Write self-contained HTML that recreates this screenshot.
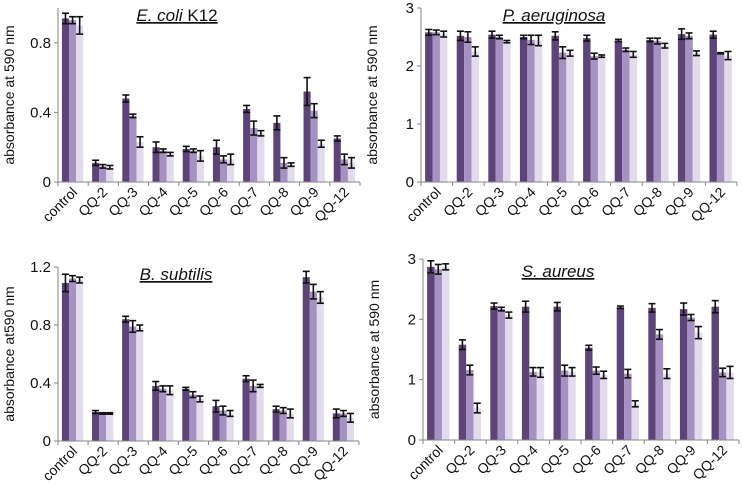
<!DOCTYPE html>
<html><head><meta charset="utf-8"><style>
body{margin:0;background:#fff;}
svg{display:block;font-family:"Liberation Sans",sans-serif;}
</style></head><body>
<svg id="c" width="743" height="494" viewBox="0 0 743 494"></svg>
<script>
const categories=["control","QQ-2","QQ-3","QQ-4","QQ-5","QQ-6","QQ-7","QQ-8","QQ-9","QQ-12"];
const ecoliVals=[[0.94,0.93,0.90],[0.11,0.09,0.085],[0.48,0.38,0.23],[0.20,0.18,0.16],[0.19,0.18,0.15],[0.20,0.13,0.13],[0.42,0.31,0.28],[0.34,0.11,0.10],[0.52,0.41,0.22],[0.25,0.13,0.11]];
const ecoliErr=[[0.03,0.02,0.05],[0.015,0.01,0.01],[0.02,0.01,0.03],[0.03,0.01,0.01],[0.015,0.01,0.03],[0.04,0.02,0.03],[0.02,0.04,0.015],[0.04,0.03,0.01],[0.08,0.04,0.02],[0.015,0.03,0.03]];
const paerVals=[[2.58,2.58,2.55],[2.52,2.5,2.25],[2.54,2.5,2.42],[2.5,2.45,2.44],[2.52,2.23,2.22],[2.48,2.17,2.17],[2.44,2.28,2.2],[2.45,2.43,2.35],[2.55,2.52,2.22],[2.54,2.22,2.18]];
const paerErr=[[0.05,0.04,0.05],[0.08,0.09,0.08],[0.06,0.03,0.02],[0.03,0.08,0.09],[0.07,0.1,0.05],[0.05,0.05,0.02],[0.02,0.03,0.05],[0.03,0.05,0.04],[0.09,0.05,0.04],[0.06,0.01,0.07]];
const bsubVals=[[1.09,1.12,1.11],[0.2,0.19,0.19],[0.84,0.79,0.78],[0.38,0.36,0.35],[0.36,0.32,0.29],[0.24,0.21,0.19],[0.43,0.38,0.38],[0.22,0.21,0.19],[1.13,1.03,0.99],[0.19,0.19,0.16]];
const bsubErr=[[0.06,0.02,0.02],[0.01,0.005,0.005],[0.02,0.04,0.02],[0.03,0.02,0.03],[0.01,0.02,0.02],[0.04,0.03,0.02],[0.02,0.04,0.01],[0.02,0.02,0.03],[0.04,0.05,0.04],[0.03,0.02,0.03]];
const saurVals=[[2.87,2.83,2.87],[1.58,1.16,0.53],[2.22,2.17,2.07],[2.21,1.13,1.12],[2.21,1.15,1.13],[1.53,1.15,1.08],[2.2,1.1,0.6],[2.19,1.75,1.1],[2.17,2.03,1.78],[2.21,1.12,1.12]];
const saurErr=[[0.1,0.08,0.05],[0.08,0.08,0.08],[0.05,0.03,0.05],[0.09,0.07,0.08],[0.07,0.09,0.07],[0.04,0.06,0.06],[0.02,0.07,0.05],[0.07,0.08,0.08],[0.1,0.05,0.1],[0.1,0.07,0.1]];
const ecoliTicks=["0","0.4","0.8"], ecoliTickVals=[0,0.4,0.8];
const paerTicks=["0","1","2","3"], paerTickVals=[0,1,2,3];
const bsubTicks=["0","0.4","0.8","1.2"], bsubTickVals=[0,0.4,0.8,1.2];
const saurTicks=["0","1","2","3"], saurTickVals=[0,1,2,3];

const colors=["#5c4479","#a791c2","#e2dbec"];
const NS="http://www.w3.org/2000/svg";
const svg=document.getElementById('c');
function mk(tag,attrs,parent){const e=document.createElementNS(NS,tag);for(const k in attrs)e.setAttribute(k,attrs[k]);(parent||svg).appendChild(e);return e;}

function panel(id,title,x0,x1,y0,yTop,ymax,vals,errs,ticks,tickVals,ytitle,titleX,titleY){
  const g=mk('g',{});
  
  
  const ys=v=>y0-(v/ymax)*(y0-yTop);
  const cw=(x1-x0)/categories.length;
  const xs=i=>x0+i*cw;
  vals.forEach((grp,i)=>{
    grp.forEach((v,j)=>{
      const bw=cw*0.235, bx=xs(i)+cw*0.13+j*bw;
      const r=mk('rect',{x:bx,y:ys(v),width:bw,height:y0-ys(v),fill:colors[j]},g);
      
      
    });
    grp.forEach((v,j)=>{
      const bw=cw*0.235, cx=xs(i)+cw*0.13+j*bw+bw/2, e=errs[i][j];
      const t=ys(v+e), b=ys(v-e);
      const eg=mk('g',{stroke:'#111','stroke-width':1.6},g);
      
      
      mk('line',{x1:cx,x2:cx,y1:t,y2:b},eg);
      mk('line',{x1:cx-3.5,x2:cx+3.5,y1:t,y2:t},eg);
      mk('line',{x1:cx-3.5,x2:cx+3.5,y1:b,y2:b},eg);
    });
  });
  const ax=mk('g',{stroke:'#868686','stroke-width':1},g);
  
  
  mk('line',{x1:x0,x2:x0,y1:yTop,y2:y0},ax);
  mk('line',{x1:x0,x2:x1,y1:y0,y2:y0},ax);
  tickVals.forEach((v,k)=>{
    mk('line',{x1:x0-4,x2:x0,y1:ys(v),y2:ys(v)},ax);
    const t=mk('text',{x:x0-7,y:ys(v)+5,'text-anchor':'end','font-size':15,fill:'#111'},g);
    t.textContent=ticks[k];
    
    
  });
  for(let i=0;i<=categories.length;i++) mk('line',{x1:xs(i),x2:xs(i),y1:y0,y2:y0+4},ax);
  categories.forEach((c,i)=>{
    const cx=xs(i)+cw/2+5, cy=y0+11;
    const t=mk('text',{x:cx,y:cy,'text-anchor':'end','font-size':14,fill:'#111',transform:`rotate(-45 ${cx} ${cy})`},g);
    t.textContent=c;
    
    
  });
  const yt=mk('text',{x:0,y:0,'text-anchor':'middle','font-size':14,fill:'#111',transform:`translate(${x0-44} ${(yTop+y0)/2}) rotate(-90)`},g);
  yt.textContent=ytitle;
  
  
  const tt=mk('text',{x:titleX,y:titleY,'text-anchor':'middle','font-size':17,fill:'#111','text-decoration':'underline'},g);
  tt.innerHTML=title;
  
  
}
panel('ecoli','<tspan font-style="italic">E. coli</tspan> K12',58,360,182,8,1.0,ecoliVals,ecoliErr,ecoliTicks,ecoliTickVals,'absorbance at 590 nm',177,21);
panel('paeruginosa','<tspan font-style="italic">P. aeruginosa</tspan>',421,737,182,8,3,paerVals,paerErr,paerTicks,paerTickVals,'absorbance at 590 nm',554,21);
panel('bsubtilis','<tspan font-style="italic">B. subtilis</tspan>',58,359,441,267,1.2,bsubVals,bsubErr,bsubTicks,bsubTickVals,'absorbance at590 nm',176,280);
panel('saureus','<tspan font-style="italic">S. aureus</tspan>',423,739,440,259,3,saurVals,saurErr,saurTicks,saurTickVals,'absorbance at 590 nm',558,277);
</script>
</body></html>
